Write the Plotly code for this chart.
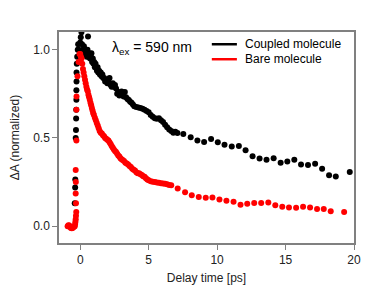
import plotly.graph_objects as go

# Coupled molecule (black)
coupled_x = [-0.40, -0.37, -0.36, -0.33, -0.31, -0.30, -0.29, -0.28, -0.28, -0.27, -0.27, -0.25, -0.22, -0.18, -0.15,
             -0.10, -0.05, 0.00, 0.04, 0.09, 0.13, 0.18, 0.22, 0.27, 0.33, 0.38, 0.43, 0.48, 0.53, 0.57, 0.62, 0.67,
             0.72, 0.77, 0.82, 0.87, 0.92, 0.97, 1.02, 1.07, 1.12, 1.17, 1.22, 1.27, 1.32, 1.38, 1.44, 1.50, 1.56,
             1.62, 1.68, 1.75, 1.82, 1.90, 1.98, 2.06, 2.14, 2.22, 2.30, 2.38, 2.46, 2.54, 2.62, 2.70, 2.78, 2.86,
             2.94, 3.02, 3.10, 3.18, 3.26, 3.35, 3.45, 3.55, 3.65, 3.75, 3.85, 3.95, 4.10, 4.25, 4.40, 4.55, 4.70,
             4.85, 5.00, 5.15, 5.30, 5.45, 5.60, 5.75, 5.90, 6.05, 6.20, 6.35, 6.50, 6.65, 6.80, 6.95, 7.10, 7.53,
             8.07, 8.56, 9.05, 9.56, 10.05, 10.54, 11.07, 11.59, 12.08, 12.59, 13.10, 13.61, 14.13, 14.64, 15.13,
             15.64, 16.13, 16.64, 17.16, 17.67, 18.18, 18.67, 19.69]
coupled_y = [0.13, 0.22, 0.265, 0.50, 0.545, 0.61, 0.66, 0.716, 0.77, 0.82, 0.87, 0.92, 0.96, 1.00, 1.03,
             1.00, 0.97, 1.04, 1.07, 1.098, 1.03, 0.98, 1.00, 1.02, 1.00, 0.97, 0.99, 0.96, 1.00, 1.075, 0.96, 0.98,
             0.95, 0.97, 0.98, 0.93, 0.95, 0.92, 0.93, 0.90, 0.92, 0.90, 0.88, 0.90, 0.87, 0.88, 0.86, 0.87, 0.85,
             0.86, 0.84, 0.84, 0.82, 0.83, 0.81, 0.82, 0.84, 0.80, 0.79, 0.81, 0.79, 0.80, 0.78, 0.75, 0.76, 0.74,
             0.75, 0.763, 0.74, 0.735, 0.76, 0.73, 0.72, 0.715, 0.705, 0.70, 0.69, 0.68, 0.675, 0.672, 0.67, 0.665, 0.66,
             0.652, 0.645, 0.63, 0.62, 0.612, 0.608, 0.612, 0.60, 0.59, 0.575, 0.56, 0.548, 0.54, 0.53, 0.535, 0.528, 0.523,
             0.504, 0.485, 0.477, 0.494, 0.475, 0.462, 0.451, 0.455, 0.430, 0.396, 0.383, 0.377, 0.385, 0.360, 0.367,
             0.377, 0.349, 0.347, 0.354, 0.326, 0.288, 0.282, 0.307]

# Bare molecule (red)
bare_x = [-0.92, -0.86, -0.80, -0.74, -0.68, -0.62, -0.56, -0.50, -0.45, -0.40, -0.37, -0.35, -0.33, -0.31, -0.29,
          -0.31, -0.33, -0.32, -0.33, -0.28, -0.28, -0.27, -0.20, -0.12, -0.05,
          0.00, 0.05, 0.10, 0.15, 0.20, 0.25, 0.30, 0.35, 0.40, 0.45, 0.50, 0.55, 0.60, 0.65, 0.70, 0.75, 0.80,
          0.85, 0.90, 0.95, 1.00, 1.07, 1.14, 1.21, 1.28, 1.35, 1.42, 1.50, 1.58, 1.66, 1.74, 1.82, 1.90, 1.98,
          2.06, 2.14, 2.22, 2.30, 2.38, 2.46, 2.54, 2.62, 2.70, 2.78, 2.86, 2.94, 3.02, 3.10, 3.20, 3.30, 3.40,
          3.50, 3.60, 3.70, 3.80, 3.90, 4.00, 4.10, 4.20, 4.30, 4.40, 4.50, 4.60, 4.70, 4.80, 4.90, 5.00, 5.15,
          5.30, 5.45, 5.60, 5.75, 5.90, 6.05, 6.20, 6.35, 6.50, 6.65, 7.12, 7.66, 8.15, 8.66, 9.17, 9.66, 10.17,
          10.68, 11.20, 11.71, 12.20, 12.71, 13.22, 13.74, 14.25, 14.76, 15.25, 15.77, 16.28, 16.79, 17.30, 17.79,
          18.30, 19.28]
bare_y = [0.000, 0.006, 0.004, -0.004, -0.010, -0.012, -0.010, -0.006, -0.002, 0.000, 0.012, 0.025, 0.040, 0.060, 0.081,
          0.130, 0.186, 0.250, 0.318, 0.485, 0.660, 0.735, 0.850, 0.930, 0.975,
          0.975, 0.960, 0.950, 0.920, 0.890, 0.870, 0.850, 0.830, 0.810, 0.790, 0.775, 0.765, 0.745, 0.730, 0.716,
          0.700, 0.685, 0.670, 0.655, 0.640, 0.630, 0.615, 0.600, 0.585, 0.570, 0.555, 0.540, 0.530, 0.525, 0.515,
          0.510, 0.500, 0.495, 0.490, 0.485, 0.475, 0.465, 0.455, 0.445, 0.435, 0.426, 0.420, 0.410, 0.400, 0.395,
          0.385, 0.379, 0.375, 0.370, 0.360, 0.355, 0.350, 0.341, 0.335, 0.325, 0.320, 0.315, 0.305, 0.300, 0.300,
          0.295, 0.290, 0.283, 0.280, 0.272, 0.265, 0.260, 0.255, 0.252, 0.250, 0.248, 0.246, 0.244, 0.242, 0.240,
          0.238, 0.234, 0.232, 0.214, 0.193, 0.176, 0.165, 0.161, 0.163, 0.152, 0.144, 0.138, 0.121, 0.127, 0.132,
          0.132, 0.135, 0.119, 0.110, 0.106, 0.104, 0.110, 0.106, 0.097, 0.097, 0.085, 0.081]

series_names = ["Coupled molecule", "Bare molecule"]
series_colors = ["#000000", "#ff0000"]

x_ticks = [0, 5, 10, 15, 20]
y_ticks = [0.0, 0.5, 1.0]
y_tick_labels = ["0.0", "0.5", "1.0"]

FONT = "Liberation Sans, Arial, sans-serif"
TXT = "#222222"

fig = go.Figure()
fig.add_trace(go.Scatter(x=coupled_x, y=coupled_y, mode="markers", name=series_names[0], showlegend=False,
                         marker=dict(color=series_colors[0], size=6, line=dict(width=0))))
fig.add_trace(go.Scatter(x=bare_x, y=bare_y, mode="markers", name=series_names[1], showlegend=False,
                         marker=dict(color=series_colors[1], size=6, line=dict(width=0))))

# legend (line keys + labels), placed in paper coordinates
legend_rows_y = [0.942, 0.871]
for name, color, yy in zip(series_names, series_colors, legend_rows_y):
    fig.add_shape(type="line", xref="paper", yref="paper", x0=0.518, x1=0.603, y0=yy, y1=yy,
                  line=dict(color=color, width=2.5))
    fig.add_annotation(x=0.624, y=yy, xref="paper", yref="paper", xanchor="left", yanchor="middle",
                       text=name, showarrow=False, font=dict(family=FONT, size=12, color="#000000"))

fig.add_annotation(x=0.172, y=0.924, xref="paper", yref="paper", xanchor="left", yanchor="middle",
                   text="λ<sub>ex</sub> = 590 nm", showarrow=False,
                   font=dict(family=FONT, size=14, color="#000000"))

axis_common = dict(showline=True, linecolor="#808080", linewidth=1.5, mirror=True, automargin=False,
                   ticks="outside", ticklen=5, tickcolor="#808080", showgrid=False, zeroline=False,
                   tickfont=dict(family=FONT, size=12, color=TXT))

fig.update_layout(
    width=382, height=292,
    margin=dict(l=51, r=36, t=24, b=57),
    paper_bgcolor="white", plot_bgcolor="white",
    font=dict(family=FONT, size=12, color=TXT),
    showlegend=False,
    xaxis=dict(range=[-1.55, 20.0], tickvals=x_ticks,
               title=dict(text="Delay time [ps]", standoff=7, font=dict(family=FONT, size=12, color=TXT)),
               **axis_common),
    yaxis=dict(range=[-0.095, 1.1], tickvals=y_ticks, ticktext=y_tick_labels,
               title=dict(text="ΔA (normalized)", standoff=15, font=dict(family=FONT, size=12, color=TXT)),
               **axis_common),
)

fig.write_html("out.html")
